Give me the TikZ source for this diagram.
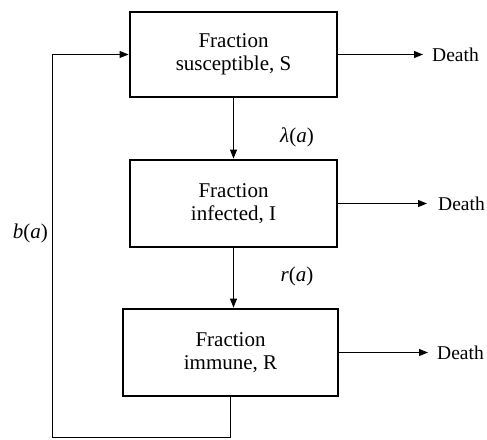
\documentclass[tikz,border=0pt]{standalone}
\usepackage{fontspec}
\setmainfont{Liberation Serif}
\usepackage{tikz}
\usetikzlibrary{
    positioning,      % For placing nodes relative to each other
    arrows.meta,      % For the filled arrow tips
    calc              % For points along the arrows
}

\begin{document}
\begin{tikzpicture}[
    x=1pt, y=-1pt,
    % Style for the compartment boxes
    box_style/.style={
        draw,
        line width=2.8pt,
        minimum width=207pt,
        minimum height=85pt,
        inner sep=2pt,
        align=center,
        font=\fontsize{21}{23.5}\selectfont
    },
    % Style for the thin connectors
    flow_line/.style={
        line width=0.8pt
    },
    % Style for arrowheads
    arrow_tip/.style={
        -{Triangle[length=9pt, width=7pt]}
    },
    % Style for the "Death" texts
    death_style/.style={
        inner sep=0pt,
        font=\fontsize{19.5}{22}\selectfont
    },
    % Style for the rate labels
    rate_style/.style={
        inner sep=0pt,
        font=\fontsize{21}{23}\selectfont
    }
]
    \useasboundingbox (0,0) rectangle (487,439);

    % 1. The three compartments, stacked.
    \node[box_style] (susc) at (233.5,54.5) {Fraction\\susceptible, S};
    \node[box_style, minimum height=87pt, below=60.2pt of susc] (infec) {Fraction\\infected, I};
    \node[box_style, minimum width=215pt, minimum height=87pt, below=59.2pt of infec, xshift=-3pt] (immun) {Fraction\\immune, R};

    % 2. The death exits on the right.
    \node[death_style, right=93.6pt of susc] (death_s) {Death};
    \node[death_style, right=99.6pt of infec] (death_i) {Death};
    \node[death_style, right=97.6pt of immun] (death_r) {Death};

    \draw[flow_line, arrow_tip, shorten >=9pt] (susc) -- (death_s);
    \draw[flow_line, arrow_tip, shorten >=11pt] (infec) -- (death_i);
    \draw[flow_line, arrow_tip, shorten >=9pt] (immun) -- (death_r);

    % 3. Flows between the compartments, with their rates.
    \draw[flow_line, arrow_tip] (susc.south) -- (infec.north);
    \draw[flow_line, arrow_tip] (infec.south) -- (infec.south |- immun.north);

    \node[rate_style, xshift=63.5pt] (lambda_lbl) at ($(susc.south)!0.65!(infec.north)$) {{\itshape λ}({\itshape a})};
    \node[rate_style, xshift=63.5pt] (r_lbl) at ($(infec.south)!0.48!(infec.south |- immun.north)$) {{\itshape r}({\itshape a})};

    % 4. Birth loop back into the susceptibles.
    \coordinate (loop_corner) at (52,437);
    \draw[flow_line, arrow_tip] (immun.south) |- (loop_corner) |- (susc.west);
    \node[rate_style, anchor=east, xshift=-4pt] (b_lbl) at ($(loop_corner)!0.533!(loop_corner |- susc.west)$) {{\itshape b}({\itshape a})};

\end{tikzpicture}
\end{document}
